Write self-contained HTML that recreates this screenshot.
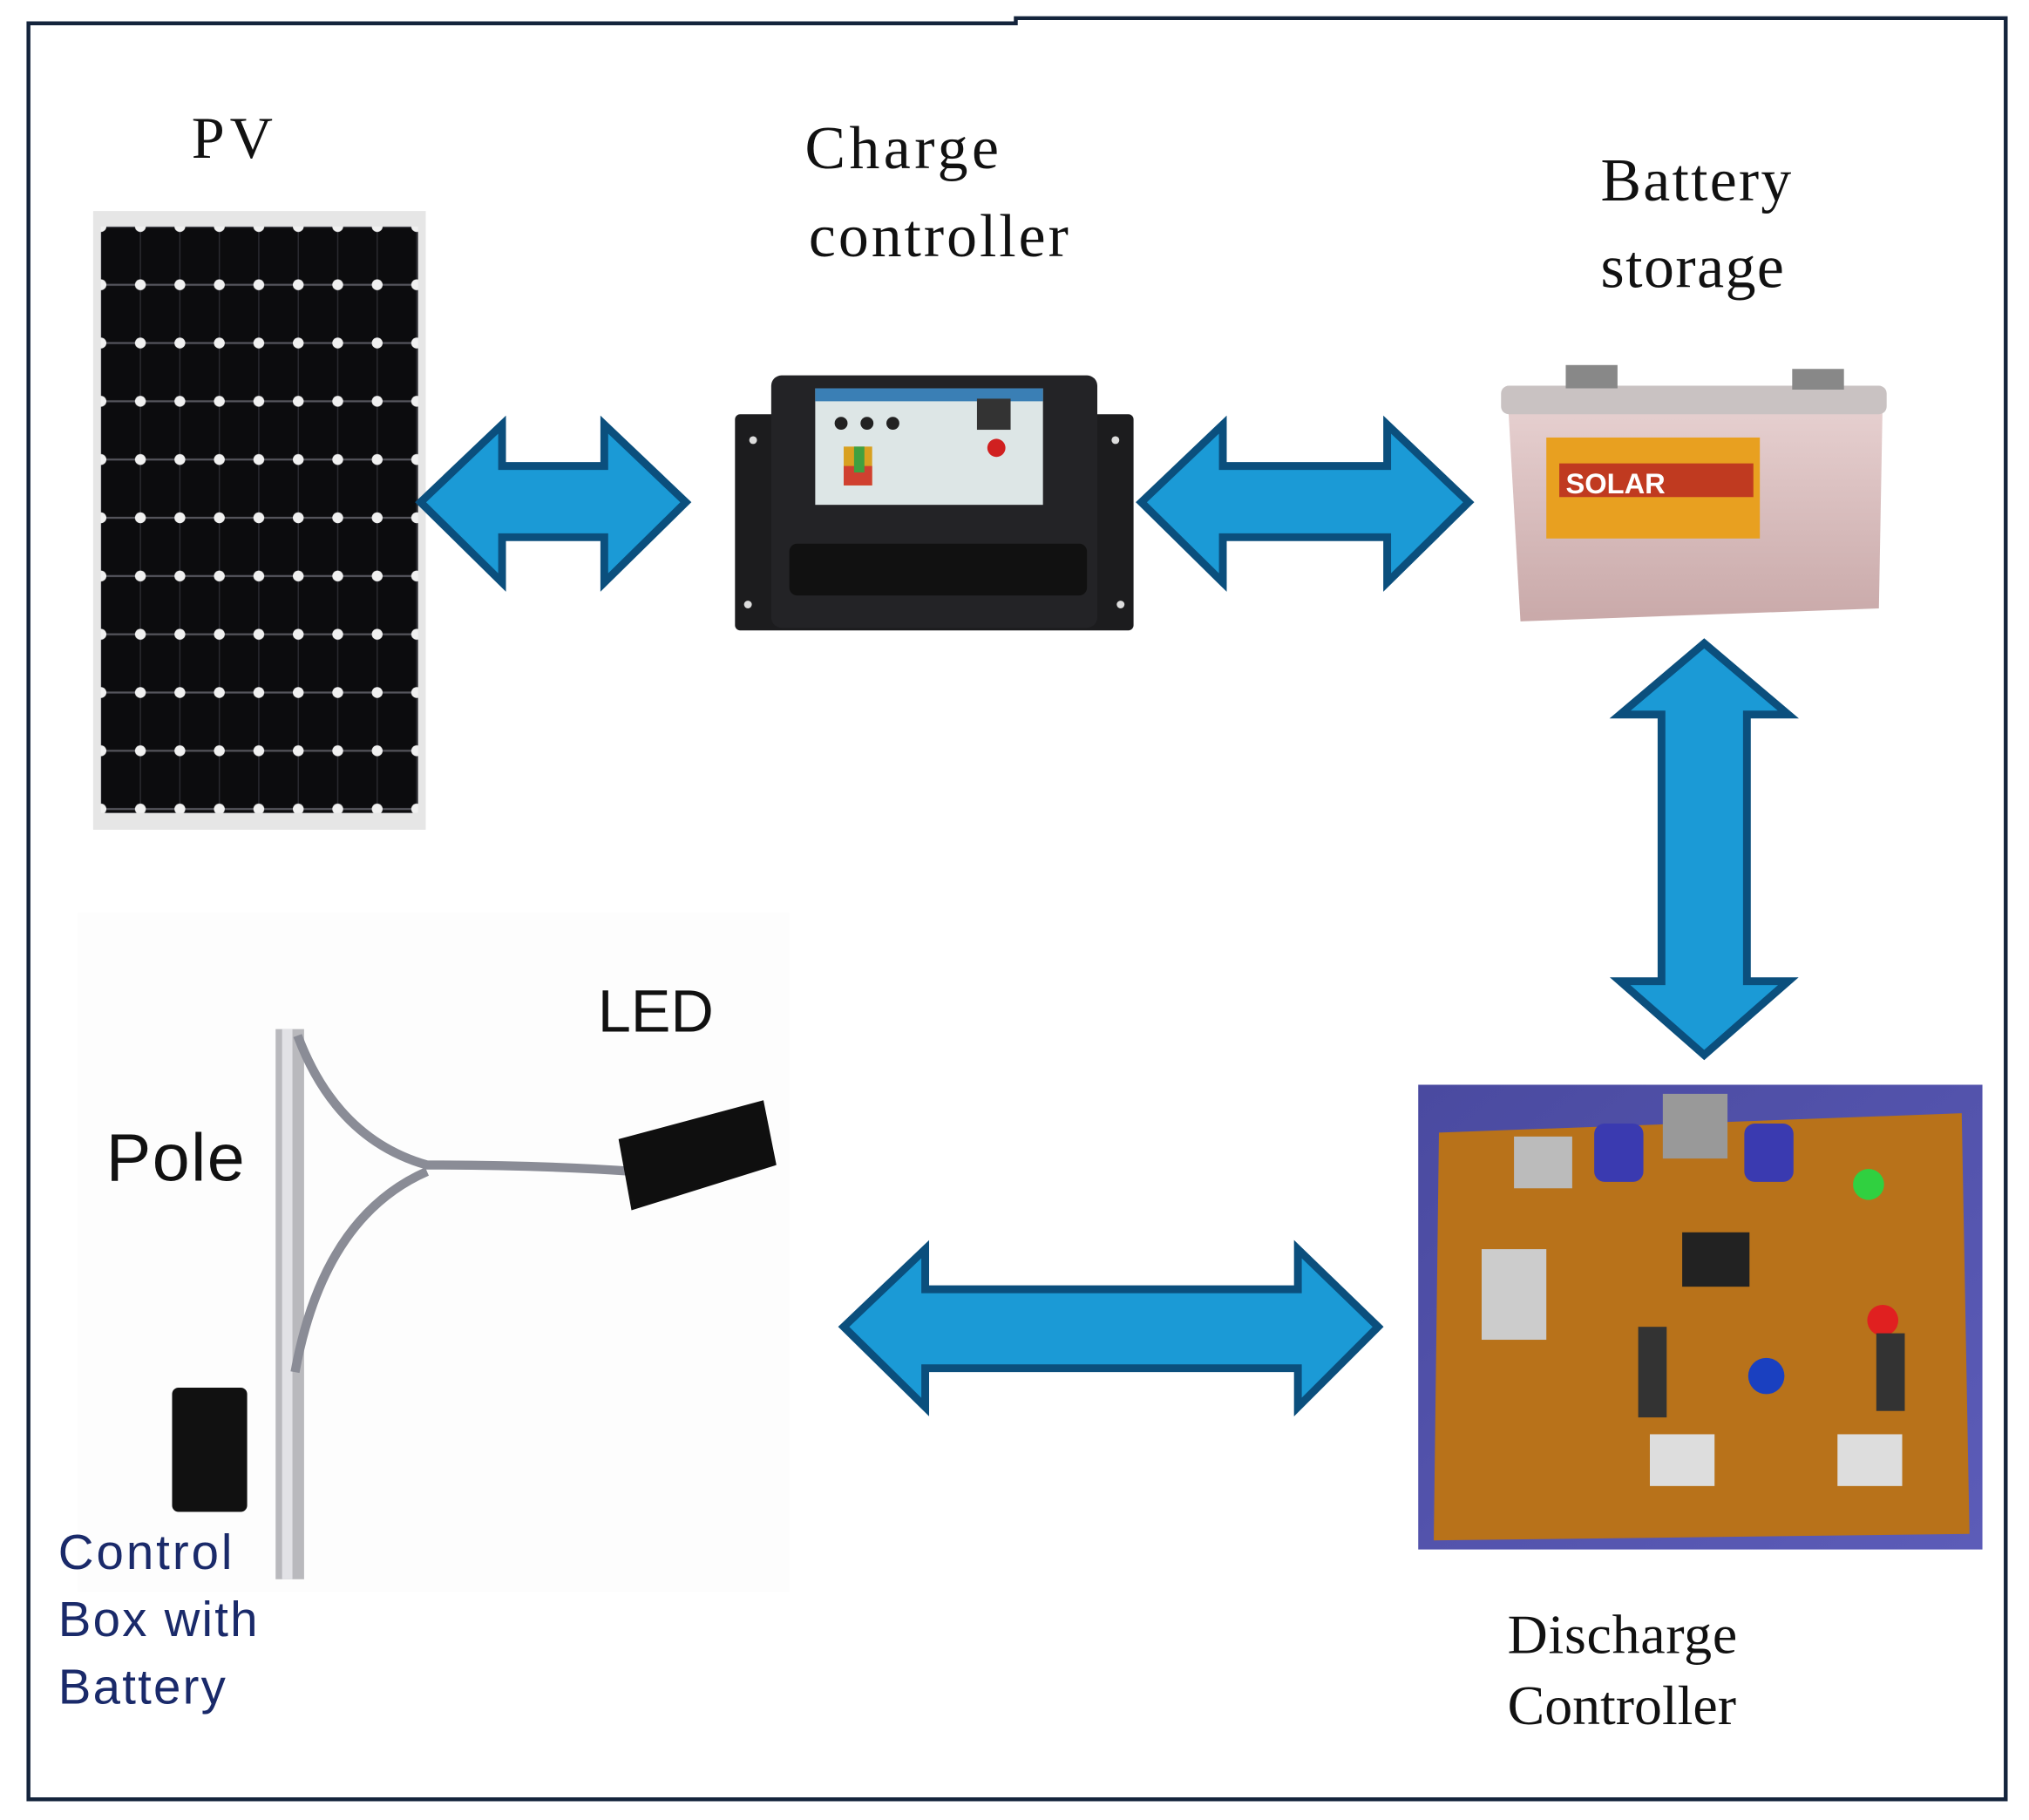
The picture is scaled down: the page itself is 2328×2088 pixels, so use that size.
<!DOCTYPE html>
<html><head><meta charset="utf-8"><style>
html,body{margin:0;padding:0;background:#fff}
svg{display:block}
</style></head><body>
<svg width="2328" height="2088" viewBox="0 0 1568 1406" preserveAspectRatio="none" xmlns="http://www.w3.org/2000/svg">
<defs>
<pattern id="cells" x="93.25" y="197.5" width="30.5" height="45" patternUnits="userSpaceOnUse">
<rect width="30.5" height="45" fill="#0c0c0e"/>
<line x1="0" y1="22.5" x2="30.5" y2="22.5" stroke="#55555c" stroke-width="1.5"/>
<line x1="15.25" y1="0" x2="15.25" y2="45" stroke="#2a2a30" stroke-width="1"/>
<circle cx="15.25" cy="22.5" r="4.2" fill="#f0f0f0"/>
</pattern>
<linearGradient id="bat" x1="0" y1="0" x2="0" y2="1"><stop offset="0" stop-color="#e8d2d2"/><stop offset="1" stop-color="#c9a9a9"/></linearGradient>
<linearGradient id="pcbbg" x1="0" y1="0" x2="1" y2="1"><stop offset="0" stop-color="#4a4aa0"/><stop offset="1" stop-color="#5c5cb8"/></linearGradient>
</defs>
<path d="M22,18 L785,18 L785,14 L1550,14 L1550,1390 L22,1390 Z" fill="none" stroke="#14243c" stroke-width="3"/>

<text x="148" y="122" font-family="Liberation Serif, serif" font-size="46" letter-spacing="4" fill="#111">PV</text>
<rect x="72" y="163" width="257" height="478" fill="#e6e6e6"/>
<rect x="78" y="175" width="245" height="453" fill="url(#cells)"/>

<text x="622" y="130" font-family="Liberation Serif, serif" font-size="47" letter-spacing="3" fill="#111">Charge</text>
<text x="625" y="198" font-family="Liberation Serif, serif" font-size="47" letter-spacing="2" fill="#111">controller</text>
<rect x="568" y="320" width="308" height="167" rx="4" fill="#1c1c1e"/>
<rect x="596" y="290" width="252" height="195" rx="8" fill="#232326"/>
<rect x="630" y="300" width="176" height="90" fill="#dde6e6"/>
<rect x="630" y="300" width="176" height="10" fill="#3a7fb5"/>
<circle cx="650" cy="327" r="5" fill="#222"/><circle cx="670" cy="327" r="5" fill="#222"/><circle cx="690" cy="327" r="5" fill="#222"/>
<rect x="652" y="345" width="22" height="30" fill="#d8a020"/><rect x="652" y="360" width="22" height="15" fill="#d04030"/><rect x="660" y="345" width="8" height="20" fill="#40a040"/>
<rect x="755" y="308" width="26" height="24" fill="#333"/>
<circle cx="770" cy="346" r="7" fill="#d02020"/>
<rect x="610" y="420" width="230" height="40" rx="6" fill="#111"/>
<circle cx="582" cy="340" r="3" fill="#ddd"/><circle cx="862" cy="340" r="3" fill="#ddd"/><circle cx="578" cy="467" r="3" fill="#ddd"/><circle cx="866" cy="467" r="3" fill="#ddd"/>

<text x="1237" y="155" font-family="Liberation Serif, serif" font-size="47" letter-spacing="1.5" fill="#111">Battery</text>
<text x="1237" y="222" font-family="Liberation Serif, serif" font-size="47" letter-spacing="1" fill="#111">storage</text>
<path d="M1165,305 L1455,305 L1452,470 L1175,480 Z" fill="url(#bat)"/>
<rect x="1160" y="298" width="298" height="22" rx="6" fill="#c9c2c2"/>
<rect x="1210" y="282" width="40" height="18" fill="#888"/><rect x="1385" y="285" width="40" height="16" fill="#888"/>
<rect x="1195" y="338" width="165" height="78" fill="#e8a020"/>
<rect x="1205" y="358" width="150" height="26" fill="#c03a20"/>
<text x="1210" y="381" font-family="Liberation Sans, sans-serif" font-weight="bold" font-size="22" fill="#fff">SOLAR</text>

<rect x="1096" y="838" width="436" height="359" fill="url(#pcbbg)"/>
<path d="M1112,875 L1516,860 L1522,1185 L1108,1190 Z" fill="#b8721a"/>
<rect x="1170" y="878" width="45" height="40" fill="#bbb"/>
<rect x="1232" y="868" width="38" height="45" rx="8" fill="#3a3ab0"/>
<rect x="1348" y="868" width="38" height="45" rx="8" fill="#3a3ab0"/>
<rect x="1285" y="845" width="50" height="50" fill="#999"/>
<circle cx="1444" cy="915" r="12" fill="#30d040"/>
<rect x="1145" y="965" width="50" height="70" fill="#ccc"/>
<rect x="1300" y="952" width="52" height="42" fill="#222"/>
<circle cx="1455" cy="1020" r="12" fill="#e02020"/>
<circle cx="1365" cy="1063" r="14" fill="#1a40c0"/>
<rect x="1266" y="1025" width="22" height="70" fill="#333"/>
<rect x="1450" y="1030" width="22" height="60" fill="#333"/>
<rect x="1275" y="1108" width="50" height="40" fill="#ddd"/>
<rect x="1420" y="1108" width="50" height="40" fill="#ddd"/>
<text x="1165" y="1277" font-family="Liberation Serif, serif" font-size="43" letter-spacing="0.5" fill="#111">Discharge</text>
<text x="1165" y="1332" font-family="Liberation Serif, serif" font-size="43" fill="#111">Controller</text>

<rect x="60" y="705" width="550" height="525" fill="#fdfdfd"/>
<rect x="213" y="795" width="22" height="425" fill="#b9b9bd"/>
<rect x="218" y="795" width="8" height="425" fill="#e2e2e6"/>
<path d="M230,800 Q260,880 330,900 Q420,900 490,905" fill="none" stroke="#8a8c96" stroke-width="7"/>
<path d="M228,1060 Q250,940 330,905" fill="none" stroke="#8a8c96" stroke-width="7"/>
<path d="M478,880 L590,850 L600,900 L488,935 Z" fill="#0f0f0f"/>
<rect x="133" y="1072" width="58" height="96" rx="5" fill="#111"/>
<text x="462" y="797" font-family="Liberation Sans, sans-serif" font-size="46" fill="#111">LED</text>
<text x="82" y="912" font-family="Liberation Sans, sans-serif" font-size="52" letter-spacing="1" fill="#111">Pole</text>
<text x="45" y="1212" font-family="Liberation Sans, sans-serif" font-size="38" letter-spacing="2" fill="#1a2a6a">Control</text>
<text x="45" y="1264" font-family="Liberation Sans, sans-serif" font-size="38" letter-spacing="1.5" fill="#1a2a6a">Box with</text>
<text x="45" y="1316" font-family="Liberation Sans, sans-serif" font-size="38" letter-spacing="1.5" fill="#1a2a6a">Battery</text>

<g fill="#1b9ad6" stroke="#0b4f7d" stroke-width="6" stroke-linejoin="miter">
<path d="M325,388 L388,328 L388,360 L467,360 L467,328 L530,388 L467,450 L467,415 L388,415 L388,450 Z"/>
<path d="M882,388 L945,328 L945,360 L1072,360 L1072,328 L1135,388 L1072,450 L1072,415 L945,415 L945,450 Z"/>
<path d="M652,1025 L715,965 L715,996 L1003,996 L1003,965 L1065,1025 L1003,1087 L1003,1057 L715,1057 L715,1087 Z"/>
<path d="M1317,497 L1382,552 L1350,552 L1350,758 L1382,758 L1317,815 L1252,758 L1284,758 L1284,552 L1252,552 Z"/>
</g>
</svg>
</body></html>
